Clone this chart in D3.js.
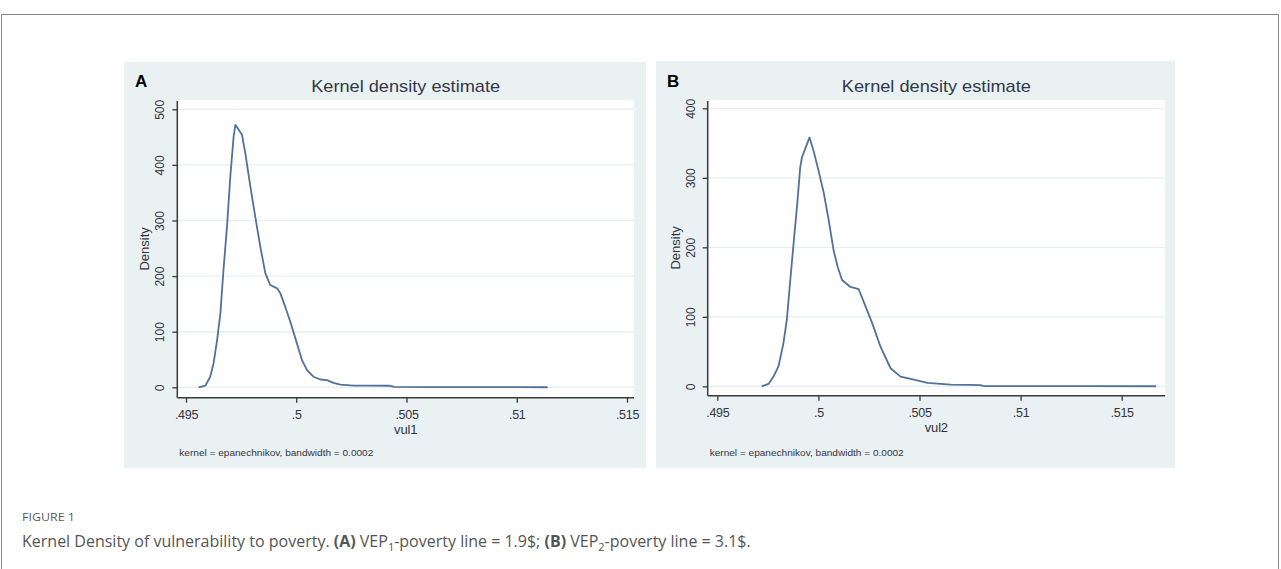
<!DOCTYPE html>
<html>
<head>
<meta charset="utf-8">
<script src="https://cdn.jsdelivr.net/npm/d3@7"></script>
<style>
  body { margin: 0; background: #fff; }
  svg { display: block; }
</style>
</head>
<body>
<script>
// tick values and labels (shared x axis)
const xTicks = [0.495, 0.5, 0.505, 0.51, 0.515];
const xTickLabels = ['.495', '.5', '.505', '.51', '.515'];
const yTicksA = [0, 100, 200, 300, 400, 500];
const yTicksB = [0, 100, 200, 300, 400];

// panel A : vul1 density curve
const vul1X = [0.49557, 0.49588, 0.49610, 0.49625, 0.49641, 0.49656, 0.49670, 0.49686,
  0.49701, 0.49716, 0.49724, 0.49754, 0.49769, 0.49792, 0.49814, 0.49837, 0.49860,
  0.49882, 0.49913, 0.49928, 0.49950, 0.49973, 0.50003, 0.50026, 0.50049, 0.50078,
  0.50109, 0.50139, 0.50169, 0.50200, 0.50260, 0.50335, 0.50420, 0.50445, 0.50600,
  0.50800, 0.51000, 0.51140];
const vul1Density = [0, 3, 19, 43, 85, 133, 211, 289, 379, 451, 472, 454, 421, 361, 307,
  253, 205, 184, 178, 169, 145, 118, 79, 49, 31, 19, 14, 13, 8, 5, 3, 3, 2.8, 0.6, 0.4,
  0.3, 0.2, 0.1];

// panel B : vul2 density curve
const vul2X = [0.49720, 0.49753, 0.49778, 0.49803, 0.49827, 0.49844, 0.49861, 0.49877,
  0.49894, 0.49910, 0.49919, 0.49935, 0.49956, 0.49976, 0.50001, 0.50026, 0.50051,
  0.50075, 0.50095, 0.50117, 0.50158, 0.50199, 0.50233, 0.50266, 0.50307, 0.50357,
  0.50406, 0.50472, 0.50539, 0.50654, 0.50750, 0.50800, 0.50820, 0.51000, 0.51300,
  0.51670];
const vul2Density = [0, 3.4, 14, 29, 62, 96, 153, 205, 258, 315, 330, 342, 358, 339, 310,
  279, 239, 196, 172, 153, 143, 140, 115, 91, 57, 26, 14, 9.6, 4.9, 2.4, 2, 1.8, 0.4,
  0.3, 0.2, 0.1];

const W = 1281, H = 569;
const svg = d3.select('body').append('svg')
  .attr('width', W)
  .attr('height', H);

// page frame
svg.append('path')
  .attr('d', `M1.5,${H + 2} V14.5 H${W - 2.5} V${H + 2}`)
  .attr('fill', 'none')
  .attr('stroke', '#8a8a8a')
  .attr('stroke-width', 1);

const fontStata = '"Liberation Sans", Arial, sans-serif';
const ink = '#34343e';

function drawPanel(cfg) {
  const g = svg.append('g');

  // outer graph region
  g.append('rect')
    .attr('x', cfg.box[0]).attr('y', cfg.box[1])
    .attr('width', cfg.box[2]).attr('height', cfg.box[3])
    .attr('fill', '#e9f1f3');

  const x = d3.scaleLinear().domain(cfg.xDomain).range([cfg.left, cfg.right]);
  const y = d3.scaleLinear().domain(cfg.yDomain).range([cfg.bottom, cfg.top]);

  // plot region
  g.append('rect')
    .attr('x', cfg.left).attr('y', cfg.top)
    .attr('width', cfg.right - cfg.left).attr('height', cfg.bottom - cfg.top)
    .attr('fill', '#ffffff');

  // grid lines
  g.append('g')
    .selectAll('line')
    .data(cfg.yTicks)
    .enter()
    .append('line')
    .attr('x1', cfg.left).attr('x2', cfg.right)
    .attr('y1', d => y(d)).attr('y2', d => y(d))
    .attr('stroke', '#e6eff1')
    .attr('stroke-width', 1.4);

  // density curve
  const line = d3.line()
    .x(d => x(d[0]))
    .y(d => y(d[1]));
  g.append('path')
    .datum(cfg.xs.map((v, i) => [v, cfg.ys[i]]))
    .attr('d', line)
    .attr('fill', 'none')
    .attr('stroke', '#52719a')
    .attr('stroke-width', 1.8)
    .attr('stroke-linejoin', 'round');

  // y axis
  const yAxis = g.append('g')
    .attr('transform', `translate(${cfg.left},0)`)
    .call(d3.axisLeft(y).tickValues(cfg.yTicks).tickSize(5).tickSizeOuter(0));
  yAxis.select('.domain')
    .attr('d', `M0,${cfg.top + 1}V${cfg.bottom}`)
    .attr('stroke', '#3a3a3a').attr('stroke-width', 1.5);
  yAxis.selectAll('.tick line').attr('stroke', '#3a3a3a').attr('stroke-width', 1.3);
  yAxis.selectAll('.tick text')
    .attr('transform', 'rotate(-90)')
    .attr('x', 0).attr('y', -13).attr('dy', 0)
    .attr('text-anchor', 'middle')
    .attr('fill', ink)
    .style('font-family', fontStata)
    .style('font-size', '12px');

  // x axis
  const xAxis = g.append('g')
    .attr('transform', `translate(0,${cfg.bottom})`)
    .call(d3.axisBottom(x).tickValues(xTicks).tickSize(5).tickSizeOuter(0)
      .tickFormat((d, i) => xTickLabels[i]));
  xAxis.select('.domain')
    .attr('d', `M${cfg.left},0H${cfg.right}`)
    .attr('stroke', '#3a3a3a').attr('stroke-width', 1.5);
  xAxis.selectAll('.tick line').attr('stroke', '#3a3a3a').attr('stroke-width', 1.3);
  xAxis.selectAll('.tick text')
    .attr('y', 21).attr('dy', 0)
    .attr('fill', ink)
    .style('font-family', fontStata)
    .style('font-size', '12.5px')
    .style('letter-spacing', '-0.3px');

  // axis titles
  g.append('text')
    .attr('transform', `translate(${cfg.left - 28},${(cfg.top + cfg.bottom) / 2}) rotate(-90)`)
    .attr('text-anchor', 'middle')
    .attr('fill', ink)
    .style('font-family', fontStata)
    .style('font-size', '13px')
    .text('Density');

  g.append('text')
    .attr('x', (cfg.left + cfg.right) / 2)
    .attr('y', cfg.bottom + 36)
    .attr('text-anchor', 'middle')
    .attr('fill', ink)
    .style('font-family', fontStata)
    .style('font-size', '13px')
    .style('letter-spacing', '-0.2px')
    .text(cfg.xTitle);

  // title
  g.append('text')
    .attr('x', (cfg.left + cfg.right) / 2)
    .attr('y', 92)
    .attr('text-anchor', 'middle')
    .attr('fill', '#323848')
    .style('font-family', fontStata)
    .style('font-size', '17px')
    .attr('textLength', 189)
    .attr('lengthAdjust', 'spacingAndGlyphs')
    .text('Kernel density estimate');

  // note
  g.append('text')
    .attr('x', cfg.left + 2)
    .attr('y', 456)
    .attr('fill', ink)
    .style('font-family', fontStata)
    .style('font-size', '8.5px')
    .attr('textLength', 194)
    .attr('lengthAdjust', 'spacingAndGlyphs')
    .text('kernel = epanechnikov, bandwidth = 0.0002');

  // panel letter
  g.append('text')
    .attr('x', cfg.box[0] + 11)
    .attr('y', 87)
    .attr('fill', '#000')
    .style('font-family', fontStata)
    .style('font-weight', 'bold')
    .style('font-size', '17px')
    .text(cfg.letter);
}

drawPanel({
  letter: 'A', xTitle: 'vul1',
  box: [124, 62, 522, 406],
  left: 177.3, right: 634, top: 100, bottom: 397.7,
  xDomain: [0.494606, 0.515317], yDomain: [-18.7, 516.7],
  yTicks: yTicksA, xs: vul1X, ys: vul1Density
});

drawPanel({
  letter: 'B', xTitle: 'vul2',
  box: [656, 61, 519, 407],
  left: 707.7, right: 1165, top: 100, bottom: 395.7,
  xDomain: [0.494525, 0.517141], yDomain: [-13.5, 412],
  yTicks: yTicksB, xs: vul2X, ys: vul2Density
});

// caption
svg.append('text')
  .attr('x', 22)
  .attr('y', 521)
  .attr('fill', '#5a5a5a')
  .style('font-family', '"Open Sans", sans-serif')
  .style('font-size', '11px')
  .attr('textLength', 53)
  .attr('lengthAdjust', 'spacingAndGlyphs')
  .text('FIGURE 1');

const cap = svg.append('text')
  .attr('x', 22)
  .attr('y', 547)
  .attr('fill', '#555')
  .style('font-family', '"Open Sans", sans-serif')
  .style('font-size', '16px');
const capParts = [
  ['Kernel Density of vulnerability to poverty. ', 400, 0],
  ['(A)', 700, 0], [' VEP', 400, 0], ['1', 400, 1], ['-poverty line = 1.9$; ', 400, 0],
  ['(B)', 700, 0], [' VEP', 400, 0], ['2', 400, 1], ['-poverty line = 3.1$.', 400, 0]
];
capParts.forEach((p, i) => {
  const t = cap.append('tspan')
    .style('font-weight', p[1])
    .text(p[0]);
  if (p[2]) t.attr('dy', 4).style('font-size', '11px');
  else t.attr('dy', i > 0 && capParts[i - 1][2] ? -4 : 0);
});
</script>
</body>
</html>
